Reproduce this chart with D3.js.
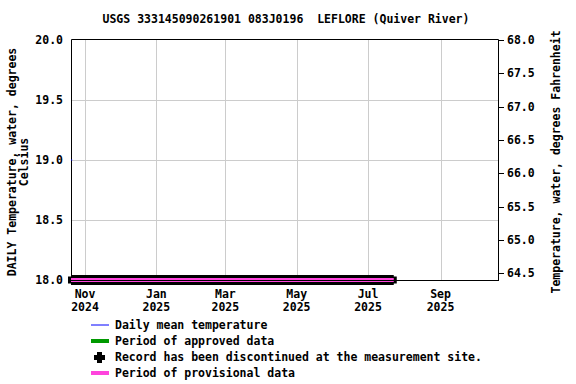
<!DOCTYPE html>
<html><head><meta charset="utf-8">
<script src="https://cdn.jsdelivr.net/npm/d3@7"></script>
<style>
body{margin:0;background:#fff;}
text{font-family:"DejaVu Sans Mono",monospace;font-weight:bold;font-size:11.5px;fill:#000;white-space:pre;}
</style></head>
<body><svg id="c" width="576" height="384"></svg>
<script>
const title = "USGS 333145090261901 083J0196  LEFLORE (Quiver River)";
const xDomain = ["2024-10-20", "2025-10-21"];
const monthTicks = ["2024-11-01","2025-01-01","2025-03-01","2025-05-01","2025-07-01","2025-09-01"];
const monthLabels = [["Nov","2024"],["Jan","2025"],["Mar","2025"],["May","2025"],["Jul","2025"],["Sep","2025"]];
const yTicksC = [18.0, 18.5, 19.0, 19.5, 20.0];
const yTicksF = [64.5, 65.0, 65.5, 66.0, 66.5, 67.0, 67.5, 68.0];
const dailyDates = ["2024-10-20","2024-10-21"];
const dailyValues = [19.0, 19.0];
const provisionalPeriod = ["2024-10-20","2025-07-23"];
const legendItems = ["Daily mean temperature","Period of approved data","Record has been discontinued at the measurement site.","Period of provisional data"];

const parse = d3.timeParse("%Y-%m-%d");
const svg = d3.select("#c");
const L=71, R=499, T=40, B=280;
const x = d3.scaleTime().domain(xDomain.map(parse)).range([L,R]);
const y = d3.scaleLinear().domain([18,20]).range([B,T]);
const yF = d3.scaleLinear().domain([64.4,68]).range([B,T]);

// gridlines
const g = svg.append("g");
g.selectAll(".vg").data(monthTicks).enter().append("line")
 .attr("x1",d=>Math.round(x(parse(d)))+0.5).attr("x2",d=>Math.round(x(parse(d)))+0.5)
 .attr("y1",T).attr("y2",B).attr("stroke","#cccccc").attr("stroke-width",1);
g.selectAll(".hg").data(yTicksC.filter(v=>v>18&&v<20)).enter().append("line")
 .attr("x1",L).attr("x2",R).attr("y1",d=>Math.round(y(d))+0.5).attr("y2",d=>Math.round(y(d))+0.5)
 .attr("stroke","#cccccc").attr("stroke-width",1);

// frame
svg.append("path").attr("d",`M${L+0.5},${B}V${T-0.5}H${R-0.5}V${B}`).attr("fill","none").attr("stroke","#000");

// daily mean line
const line = d3.line().x((d,i)=>x(parse(dailyDates[i]))).y(d=>y(d));
svg.append("path").datum(dailyValues).attr("d",line).attr("fill","none").attr("stroke","#0000ff").attr("stroke-width",1);

// provisional bar
const px0 = x(parse(provisionalPeriod[0])), px1 = x(parse(provisionalPeriod[1]));
svg.append("line").attr("x1",px0).attr("x2",px1).attr("y1",y(18)).attr("y2",y(18)).attr("stroke","#000").attr("stroke-width",10);
svg.append("rect").attr("x",px0-3).attr("y",y(18)-3.5).attr("width",4).attr("height",7).attr("fill","#000");
svg.append("rect").attr("x",px1-1).attr("y",y(18)-3.5).attr("width",4).attr("height",7).attr("fill","#000");
svg.append("line").attr("x1",px0).attr("x2",px1).attr("y1",y(18)).attr("y2",y(18)).attr("stroke","#ff44dd").attr("stroke-width",4);
// bottom axis line
svg.append("line").attr("x1",L).attr("x2",R).attr("y1",B+0.5).attr("y2",B+0.5).attr("stroke","#000");

// left axis labels
svg.selectAll(".yl").data(yTicksC).enter().append("text")
 .attr("x",63).attr("y",d=>y(d)+4).attr("text-anchor","end").text(d=>d.toFixed(1));
// right axis ticks & labels
svg.selectAll(".rt").data(yTicksF).enter().append("line")
 .attr("x1",R).attr("x2",R+5).attr("y1",d=>Math.round(yF(d))+0.5).attr("y2",d=>Math.round(yF(d))+0.5).attr("stroke","#000");
svg.selectAll(".yr").data(yTicksF).enter().append("text")
 .attr("x",507).attr("y",d=>yF(d)+4).attr("text-anchor","start").text(d=>d.toFixed(1));

// x labels
monthTicks.forEach((d,i)=>{
  const xx = x(parse(d));
  svg.append("text").attr("x",xx).attr("y",298).attr("text-anchor","middle").text(monthLabels[i][0]);
  svg.append("text").attr("x",xx).attr("y",311).attr("text-anchor","middle").text(monthLabels[i][1]);
});

// title
svg.append("text").attr("x",286).attr("y",23).attr("text-anchor","middle").attr("xml:space","preserve").text(title);

// axis titles
svg.append("text").attr("transform","translate(16,162) rotate(-90)").attr("text-anchor","middle").text("DAILY Temperature, water, degrees");
svg.append("text").attr("transform","translate(28,162) rotate(-90)").attr("text-anchor","middle").text("Celsius");
svg.append("text").attr("transform","translate(560,162) rotate(-90)").attr("text-anchor","middle").text("Temperature, water, degrees Fahrenheit");

// legend
const ly = [325,341,357,373];
svg.append("line").attr("x1",91).attr("x2",109).attr("y1",ly[0]).attr("y2",ly[0]).attr("stroke","#0000ff").attr("stroke-width",1);
svg.append("line").attr("x1",91).attr("x2",109).attr("y1",ly[1]).attr("y2",ly[1]).attr("stroke","#009900").attr("stroke-width",4);
svg.append("path").attr("d",`M${97},${ly[2]-5}h5v3h3v5h-3v3h-5v-3h-3v-5h3z`).attr("fill","#000");
svg.append("line").attr("x1",91).attr("x2",109).attr("y1",ly[3]).attr("y2",ly[3]).attr("stroke","#ff44dd").attr("stroke-width",4);
svg.selectAll(".lt").data(legendItems).enter().append("text")
 .attr("x",115).attr("y",(d,i)=>ly[i]+4).text(d=>d);
</script></body></html>
